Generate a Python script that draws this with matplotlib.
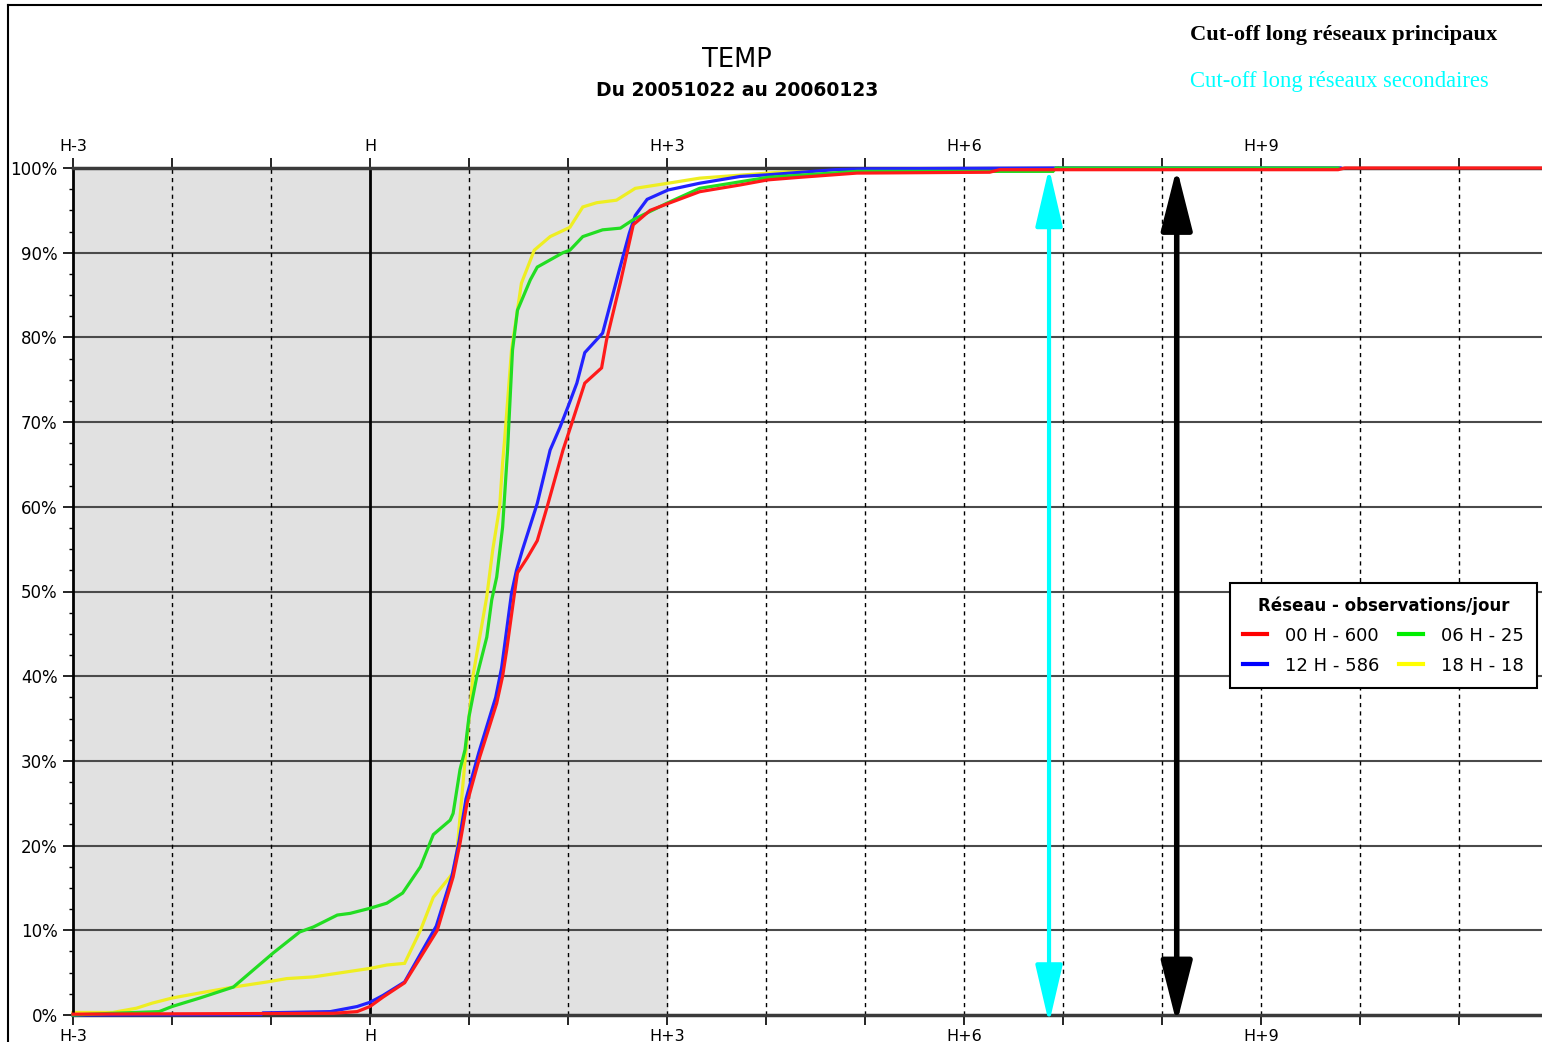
"""
TEMP cumulative arrival delay by network (00/06/12/18 H), Oct 2005 - Jan 2006.
"""
import matplotlib
matplotlib.use('Agg')
import matplotlib.pyplot as plt
from matplotlib.lines import Line2D
from matplotlib.ticker import MultipleLocator

# hours relative to H, cumulative percent of observations received
red_h = [-3.0, -0.37, -0.13, 0.0, 0.13, 0.35, 0.51, 0.68, 0.84, 0.91, 0.98, 1.11, 1.14,
         1.28, 1.34, 1.38, 1.46, 1.49, 1.59, 1.69, 1.79, 1.95, 2.04, 2.17, 2.34, 2.39,
         2.53, 2.66, 2.83, 3.01, 3.33, 3.74, 4.02, 4.34, 4.92, 6.26, 6.36, 9.78, 9.85, 11.84]
red_p = [0.1, 0.2, 0.4, 1.0, 2.1, 3.8, 6.8, 10.0, 16.3, 20.3, 25.0, 30.5, 31.6,
         36.8, 40.0, 43.0, 49.8, 52.2, 54.0, 56.0, 60.0, 66.7, 69.9, 74.6, 76.4, 79.7,
         86.5, 93.3, 95.0, 95.8, 97.2, 98.0, 98.6, 98.9, 99.4, 99.5, 99.8, 99.8, 100.0, 100.0]

blue_h = [-3.0, -1.1, -1.08, -0.4, -0.13, 0.0, 0.13, 0.35, 0.5, 0.67, 0.83, 0.9, 0.97,
          1.1, 1.27, 1.33, 1.43, 1.48, 1.54, 1.69, 1.82, 1.92, 2.0, 2.09, 2.17, 2.35,
          2.52, 2.62, 2.68, 2.8, 3.01, 3.33, 3.74, 4.02, 4.7, 5.0, 6.9, 9.8]
blue_p = [0.0, 0.05, 0.25, 0.4, 1.0, 1.5, 2.3, 3.9, 7.0, 10.5, 16.5, 20.5, 25.5,
          31.0, 37.5, 41.0, 49.8, 52.5, 54.9, 60.4, 66.7, 69.4, 71.8, 74.6, 78.2, 80.5,
          88.0, 92.3, 94.4, 96.3, 97.4, 98.2, 99.0, 99.2, 99.8, 99.9, 100.0, 100.0]

green_h = [-3.0, -2.6, -2.13, -2.0, -1.72, -1.38, -1.18, -0.98, -0.71, -0.57, -0.33, -0.2,
           0.0, 0.17, 0.33, 0.51, 0.64, 0.81, 0.84, 0.91, 0.96, 1.0, 1.08, 1.18, 1.23,
           1.28, 1.34, 1.39, 1.44, 1.49, 1.62, 1.69, 1.95, 2.02, 2.15, 2.35, 2.53, 2.66,
           3.01, 3.33, 4.02, 4.92, 6.9, 6.93, 9.78]
green_p = [0.0, 0.2, 0.4, 1.0, 2.0, 3.3, 5.3, 7.3, 9.8, 10.4, 11.8, 12.0,
           12.6, 13.2, 14.4, 17.5, 21.3, 23.0, 23.8, 29.0, 31.3, 35.2, 40.0, 44.6, 49.0,
           51.7, 57.6, 66.7, 78.5, 83.2, 86.8, 88.3, 90.0, 90.3, 91.9, 92.7, 92.9, 93.9,
           95.9, 97.6, 98.9, 99.6, 99.6, 100.0, 100.0]

yellow_h = [-3.0, -2.6, -2.36, -2.2, -2.0, -1.72, -1.38, -1.04, -0.84, -0.57, -0.23, 0.0,
            0.17, 0.35, 0.51, 0.64, 0.78, 0.84, 0.88, 0.91, 0.96, 1.04, 1.18, 1.24, 1.31,
            1.34, 1.36, 1.43, 1.53, 1.66, 1.82, 2.02, 2.15, 2.29, 2.49, 2.68, 3.01, 3.33,
            4.02, 4.5, 6.9, 6.95]
yellow_p = [0.3, 0.3, 0.8, 1.4, 2.0, 2.6, 3.3, 3.9, 4.3, 4.5, 5.1, 5.5,
            5.9, 6.1, 10.0, 13.9, 15.9, 16.8, 19.5, 23.4, 30.0, 40.0, 49.4, 54.9, 60.0,
            65.2, 67.9, 78.5, 86.4, 90.3, 91.9, 93.0, 95.4, 95.9, 96.2, 97.6, 98.2, 98.8,
            99.4, 99.8, 99.8, 100.0]

legend_labels = ['00 H - 600', '12 H - 586', '06 H - 25', '18 H - 18']
tick_hours = list(range(-3, 12))
tick_names = {-3: 'H-3', 0: 'H', 3: 'H+3', 6: 'H+6', 9: 'H+9'}
cutoff_secondary = 6.86
cutoff_principal = 8.15

XMIN, XMAX = -3, 11.84

fig = plt.figure(figsize=(15.42, 10.42), dpi=100)
fig.patch.set_facecolor('white')
ax = fig.add_axes([73 / 1542, 1 - 1015 / 1042, 1 - 73 / 1542, (1015 - 168) / 1042])
ax.set_xlim(XMIN, XMAX)
ax.set_ylim(0, 100)

# frame around the picture (only top and left are visible)
fig.add_artist(Line2D([8 / 1542, 8 / 1542], [0, 1 - 5 / 1042], color='black', lw=1.5))
fig.add_artist(Line2D([8 / 1542, 1], [1 - 5 / 1042, 1 - 5 / 1042], color='black', lw=1.5))

# shaded window H-3 .. H+3
ax.axvspan(-3, 3, color='#e1e1e1', zorder=0)

# grid
for p in range(10, 100, 10):
    ax.axhline(p, color='#4a4a4a', lw=1.5, zorder=1)
for h in tick_hours[1:]:
    if h == 0:
        ax.axvline(h, color='black', lw=2, zorder=1)
    else:
        ax.axvline(h, color='black', lw=1, ls=(0, (3, 3)), zorder=1)

curves = [
    (yellow_h, yellow_p, '#eeee22', 2),
    (blue_h, blue_p, '#2222ff', 3),
    (green_h, green_p, '#22dd22', 4),
    (red_h, red_p, '#ff1a1a', 5),
]
for hx, py, col, z in curves:
    ax.plot(hx, py, color=col, lw=2.3, zorder=z, clip_on=False, solid_joinstyle='miter')

# cut-off arrows
ax.annotate('', xy=(cutoff_secondary, -1.0), xytext=(cutoff_secondary, 100),
            arrowprops=dict(arrowstyle='<|-|>,head_length=1.8,head_width=0.42',
                            mutation_scale=20, color='#00ffff', lw=3, shrinkA=0, shrinkB=0),
            annotation_clip=False, zorder=6)
ax.annotate('', xy=(cutoff_principal, -1.0), xytext=(cutoff_principal, 100),
            arrowprops=dict(arrowstyle='<|-|>,head_length=1.9,head_width=0.48',
                            mutation_scale=20, color='black', lw=4, shrinkA=0, shrinkB=0),
            annotation_clip=False, zorder=6)

# axes styling
ax.spines['right'].set_visible(False)
ax.spines['top'].set_color('#3a3a3a')
ax.spines['top'].set_linewidth(2.5)
ax.spines['bottom'].set_color('#3a3a3a')
ax.spines['bottom'].set_linewidth(2.5)
ax.spines['left'].set_color('black')
ax.spines['left'].set_linewidth(2)

ax.set_xticks(tick_hours)
ax.set_xticklabels([tick_names.get(h, '') for h in tick_hours])
ax.tick_params(axis='x', top=True, labeltop=True, bottom=True, labelbottom=True,
               direction='out', length=7, width=1.2, labelsize=11.5, pad=3)
ax.set_yticks(range(0, 101, 10))
ax.set_yticklabels([f'{p}%' for p in range(0, 101, 10)])
ax.yaxis.set_minor_locator(MultipleLocator(2.5))
ax.tick_params(axis='y', which='major', direction='out', length=7, width=1.2,
               labelsize=12, pad=4)
ax.tick_params(axis='y', which='minor', direction='out', length=3, width=1)

# titles
fig.text(737 / 1542, 1 - 60 / 1042, 'TEMP', ha='center', va='center', fontsize=18.5)
fig.text(737 / 1542, 1 - 91 / 1042, 'Du 20051022 au 20060123', ha='center', va='center',
         fontsize=13.5, fontweight='bold')
fig.text(1190 / 1542, 1 - 35 / 1042, 'Cut-off long réseaux principaux', ha='left',
         va='center', fontsize=16.2, fontweight='bold', family='Liberation Serif')
fig.text(1190 / 1542, 1 - 82 / 1042, 'Cut-off long réseaux secondaires', ha='left',
         va='center', fontsize=16.3, color='#00ffff', family='Liberation Serif')

handles = [Line2D([], [], color=c, lw=3) for c in ['#ff0000', '#0000ff', '#00ee00', '#ffff00']]
leg = fig.legend(handles, legend_labels, ncol=2, loc='upper right',
                 bbox_to_anchor=(1537 / 1542, 1 - 583 / 1042),
                 title='Réseau - observations/jour', fontsize=13,
                 title_fontproperties={'weight': 'bold', 'size': 12},
                 frameon=True, fancybox=False, edgecolor='black', framealpha=1,
                 handlelength=1.3, columnspacing=1.1, handletextpad=1.0,
                 borderaxespad=0, labelspacing=0.65, borderpad=0.75)
leg.get_frame().set_linewidth(1.5)
leg.set_zorder(10)

plt.savefig('out.png', dpi=100, facecolor='white')
